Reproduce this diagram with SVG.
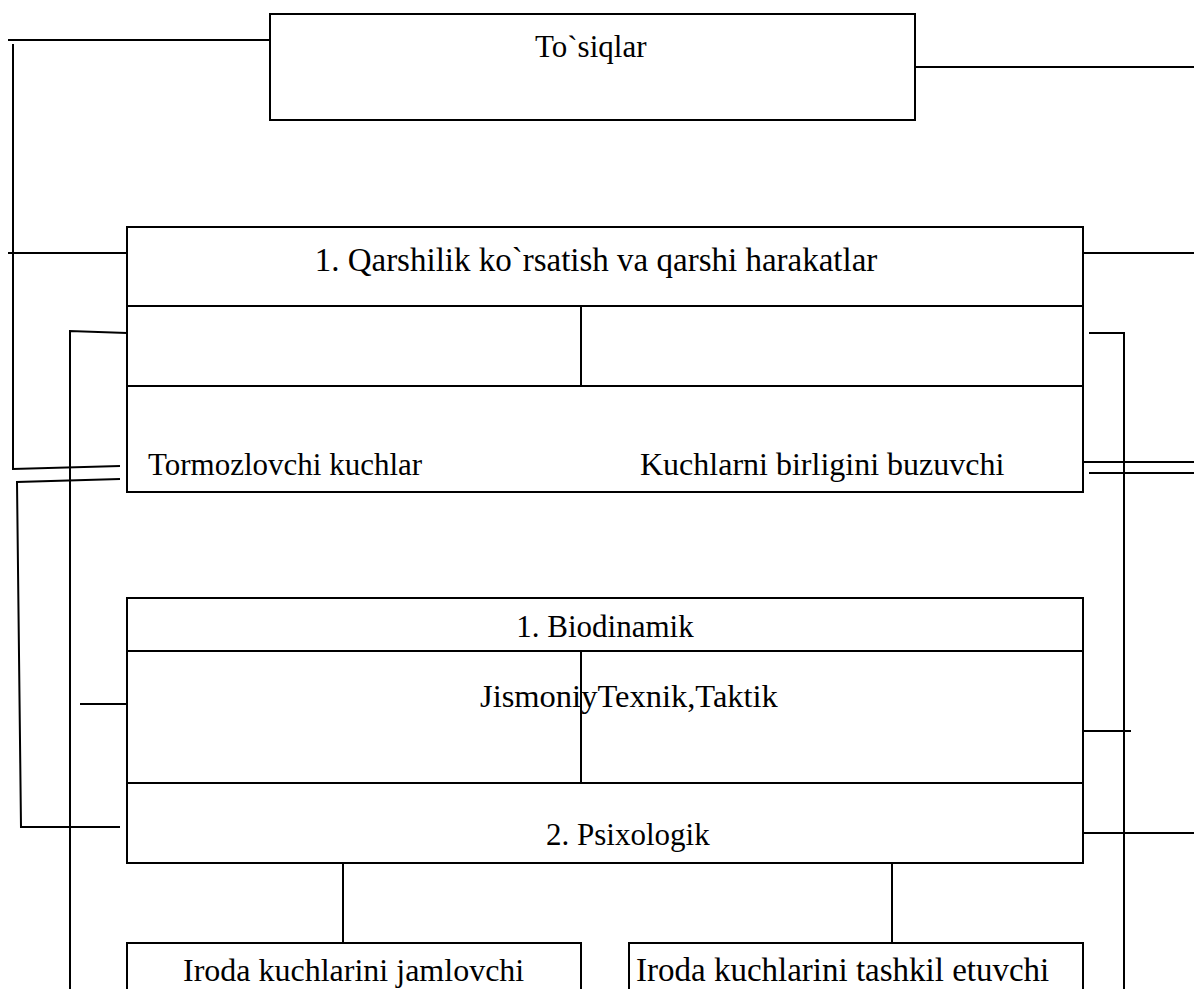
<svg xmlns="http://www.w3.org/2000/svg" width="1194" height="989" viewBox="0 0 1194 989">
<style>
.b{fill:#fff;stroke:#000;stroke-width:2}
.l{fill:none;stroke:#000;stroke-width:2}
.t{font-family:"Liberation Serif","Times New Roman",serif;font-size:31px;fill:#000}
</style>
<rect width="1194" height="989" fill="#fff"/>
<g id="connectors" class="l">
<polyline points="8,40 270,40"/>
<polyline points="13,44 13,469 120,466"/>
<polyline points="8,253 127,253"/>
<polyline points="127,333 70,331 70,989"/>
<polyline points="120,479 17,482 21,827 120,827"/>
<polyline points="80,704 127,704"/>
<polyline points="915,67 1194,67"/>
<polyline points="1083,253 1194,253"/>
<polyline points="1089,333 1124,333 1124,989"/>
<polyline points="1081,462 1194,462"/>
<polyline points="1089,473 1194,473"/>
<polyline points="1083,731 1131,731"/>
<polyline points="1083,833 1194,833"/>
<polyline points="343,863 343,943"/>
<polyline points="892,863 892,943"/>
</g>
<g id="tosiqlar">
<rect class="b" x="270" y="14" width="645" height="106"/>
<text class="t" x="535" y="57">To`siqlar</text>
</g>
<g id="qarshilik">
<rect class="b" x="127" y="227" width="956" height="265"/>
<line class="l" x1="127" y1="306" x2="1083" y2="306"/>
<line class="l" x1="127" y1="386" x2="1083" y2="386"/>
<line class="l" x1="581" y1="306" x2="581" y2="386"/>
<text class="t" x="596" y="271" text-anchor="middle" style="font-size:33px">1. Qarshilik ko`rsatish va qarshi harakatlar</text>
<text class="t" x="148" y="475">Tormozlovchi kuchlar</text>
<text class="t" x="640" y="475" style="font-size:32px">Kuchlarni birligini buzuvchi</text>
</g>
<g id="biodinamik">
<rect class="b" x="127" y="598" width="956" height="265"/>
<line class="l" x1="127" y1="651" x2="1083" y2="651"/>
<line class="l" x1="127" y1="783" x2="1083" y2="783"/>
<line class="l" x1="581" y1="651" x2="581" y2="783"/>
<text class="t" x="605" y="637" text-anchor="middle">1. Biodinamik</text>
<text class="t" x="480" y="707" style="font-size:32.5px">JismoniyTexnik,Taktik</text>
<text class="t" x="546" y="845">2. Psixologik</text>
</g>
<g id="jamlovchi">
<rect class="b" x="127" y="943" width="454" height="60"/>
<text class="t" x="183" y="981" style="font-size:32px">Iroda kuchlarini jamlovchi</text>
</g>
<g id="tashkil">
<rect class="b" x="629" y="943" width="454" height="60"/>
<text class="t" x="636" y="981" style="font-size:33px">Iroda kuchlarini tashkil etuvchi</text>
</g>
</svg>
